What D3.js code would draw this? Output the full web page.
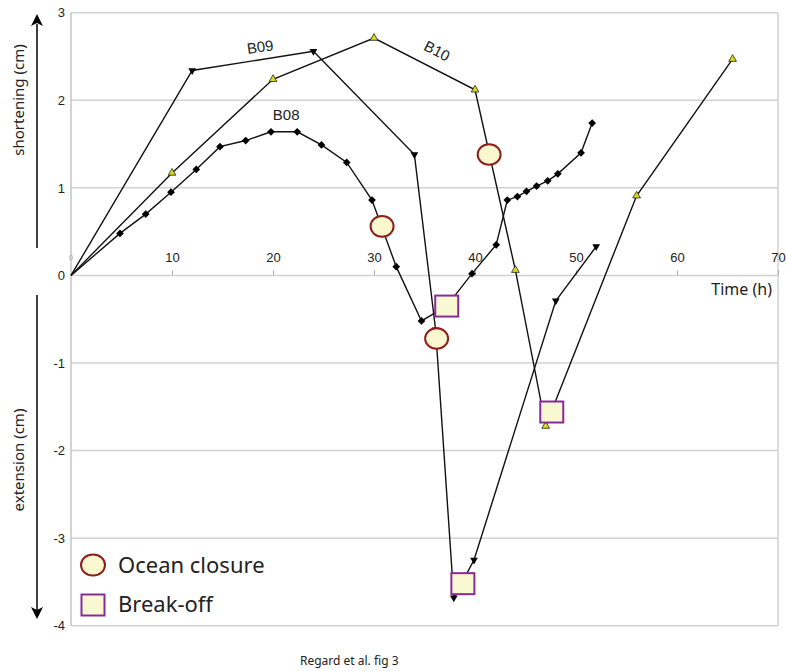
<!DOCTYPE html>
<html><head><meta charset="utf-8">
<script src="https://cdn.jsdelivr.net/npm/d3@7"></script>
<style>body{margin:0;background:#fff}svg{display:block}</style>
</head><body>
<svg id="c" width="786" height="671"></svg>
<script>
// ---- data ----
const xTicks = [10, 20, 30, 40, 50, 60, 70];
const yTicks = [-4, -3, -2, -1, 0, 1, 2, 3];
const b08 = [[0,0],[4.85,0.48],[7.4,0.70],[9.9,0.95],[12.4,1.21],[14.75,1.47],[17.3,1.54],[19.8,1.64],[22.4,1.64],[24.8,1.49],[27.3,1.29],[29.8,0.86],[32.2,0.10],[34.7,-0.52],[37.2,-0.35],[39.7,0.02],[42.1,0.35],[43.2,0.86],[44.2,0.90],[45.1,0.96],[46.1,1.02],[47.2,1.08],[48.2,1.16],[50.5,1.40],[51.6,1.74]];
const b09 = [[0,0],[12.0,2.34],[24.0,2.56],[34.0,1.38],[36.1,-0.62],[37.9,-3.68],[39.9,-3.25],[48.0,-0.29],[52.0,0.33]];
const b10 = [[0,0],[10.0,1.17],[20.0,2.24],[30.0,2.71],[40.0,2.12],[44.0,0.06],[47.0,-1.72],[56.0,0.91],[65.5,2.47]];
const oceanClosure = [[30.8,0.56],[36.2,-0.72],[41.4,1.38]];
const breakOff = [[37.2,-0.35],[38.8,-3.52],[47.6,-1.56]];
const seriesLabels = [{t:"B09", x:18.8, y:2.55, r:-8},{t:"B10", x:36.0, y:2.51, r:27},{t:"B08", x:21.3, y:1.78, r:0}];

const svg = d3.select("#c");
const x = d3.scaleLinear().domain([0,70]).range([71,778]);
const y = d3.scaleLinear().domain([-4,3]).range([625.7,12.7]);
const fmt = d => String(d);

// grid
svg.append("g").selectAll("line").data(yTicks).join("line")
  .attr("x1", x(0)).attr("x2", x(70)).attr("y1", d=>y(d)).attr("y2", d=>y(d))
  .attr("stroke", "#d2d2d2").attr("stroke-width", 1.5);
// left and right borders
svg.append("line").attr("x1",x(0)).attr("x2",x(0)).attr("y1",y(3)).attr("y2",y(-4)).attr("stroke","#c4c4c4").attr("stroke-width",1.5);
svg.append("line").attr("x1",x(70)).attr("x2",x(70)).attr("y1",y(3)).attr("y2",y(-4)).attr("stroke","#d2d2d2").attr("stroke-width",1.5);

// y axis labels
const ya = svg.append("g").attr("transform", `translate(${x(0)},0)`)
  .call(d3.axisLeft(y).tickValues(yTicks).tickSize(0).tickPadding(6).tickFormat(fmt));
ya.select(".domain").remove();
ya.selectAll("text").attr("font-family","Liberation Sans, Arial, sans-serif").attr("font-size",13).attr("fill","#222");

// x axis at y=0
const xa = svg.append("g").attr("transform", `translate(0,${y(0)})`)
  .call(d3.axisTop(x).tickValues(xTicks).tickSize(5).tickPadding(8).tickFormat(fmt));
xa.select(".domain").remove();
xa.selectAll("line").attr("stroke","#aaa");
xa.selectAll("text").attr("font-family","Liberation Sans, Arial, sans-serif").attr("font-size",13).attr("fill","#222");
svg.append("text").attr("x", x(0)).attr("y", y(0)-15).attr("text-anchor","middle")
  .attr("font-family","Liberation Sans, Arial, sans-serif").attr("font-size",8).attr("fill","#aaa").text("0");

// lines
const line = d3.line().x(d=>x(d[0])).y(d=>y(d[1]));
[b08,b09,b10].forEach(s=>{
  svg.append("path").attr("d", line(s)).attr("fill","none").attr("stroke","#111").attr("stroke-width",1.4);
});

// markers
svg.append("g").selectAll("path").data(b08.slice(1)).join("path")
  .attr("transform", d=>`translate(${x(d[0])},${y(d[1])}) rotate(45)`)
  .attr("d", d3.symbol(d3.symbolSquare, 30)()).attr("fill","#000");
svg.append("g").selectAll("path").data(b09.slice(1)).join("path")
  .attr("transform", d=>`translate(${x(d[0])},${y(d[1])}) rotate(180)`)
  .attr("d", d3.symbol(d3.symbolTriangle, 26)()).attr("fill","#000");
svg.append("g").selectAll("path").data(b10.slice(1)).join("path")
  .attr("transform", d=>`translate(${x(d[0])},${y(d[1])})`)
  .attr("d", d3.symbol(d3.symbolTriangle, 26)()).attr("fill","#dcd81a").attr("stroke","#222").attr("stroke-width",0.8);

// event markers
const ocFill = "#fbf7cf", ocStroke = "#8e1f1a", boFill = "#f8f8d2", boStroke = "#8a2a9a";
svg.append("g").selectAll("ellipse").data(oceanClosure).join("ellipse")
  .attr("cx", d=>x(d[0])).attr("cy", d=>y(d[1])).attr("rx", 11.5).attr("ry", 10.3)
  .attr("fill", ocFill).attr("stroke", ocStroke).attr("stroke-width", 2);
svg.append("g").selectAll("rect").data(breakOff).join("rect")
  .attr("x", d=>x(d[0])-11.5).attr("y", d=>y(d[1])-10.5).attr("width", 23).attr("height", 21)
  .attr("fill", boFill).attr("stroke", boStroke).attr("stroke-width", 2);

// series labels
svg.append("g").selectAll("text").data(seriesLabels).join("text")
  .attr("transform", d=>`translate(${x(d.x)},${y(d.y)}) rotate(${d.r})`)
  .attr("text-anchor","middle").attr("font-family","Liberation Sans, Arial, sans-serif")
  .attr("font-size",15).attr("fill","#222").text(d=>d.t);

// axis titles
svg.append("text").attr("x", 772).attr("y", 295).attr("text-anchor","end")
  .attr("font-family","Noto Sans, sans-serif").attr("font-size",16).attr("fill","#222").text("Time (h)");
svg.append("text").attr("transform","translate(24,100) rotate(-90)").attr("text-anchor","middle")
  .attr("font-family","Noto Sans, sans-serif").attr("font-size",15).attr("fill","#222").text("shortening (cm)");
svg.append("text").attr("transform","translate(24,460) rotate(-90)").attr("text-anchor","middle")
  .attr("font-family","Noto Sans, sans-serif").attr("font-size",15).attr("fill","#222").text("extension (cm)");

// arrows
svg.append("path").attr("d","M37,248 L37,24").attr("stroke","#000").attr("stroke-width",1.5);
svg.append("path").attr("d","M31,26 L37,14 L43,26 L37,23 Z").attr("fill","#000");
svg.append("path").attr("d","M37,295 L37,610").attr("stroke","#000").attr("stroke-width",1.5);
svg.append("path").attr("d","M31,607 L37,619 L43,607 L37,610 Z").attr("fill","#000");

// legend
svg.append("ellipse").attr("cx",93).attr("cy",565).attr("rx",12).attr("ry",10.5)
  .attr("fill",ocFill).attr("stroke",ocStroke).attr("stroke-width",2);
svg.append("rect").attr("x",81.5).attr("y",594.5).attr("width",23).attr("height",21)
  .attr("fill",boFill).attr("stroke",boStroke).attr("stroke-width",2);
svg.append("text").attr("x",118).attr("y",573).attr("font-family","Noto Sans, sans-serif").attr("font-size",22).attr("fill","#222").text("Ocean closure");
svg.append("text").attr("x",118).attr("y",612).attr("font-family","Noto Sans, sans-serif").attr("font-size",22).attr("fill","#222").text("Break-off");

// caption
svg.append("text").attr("x",300).attr("y",665).attr("font-family","Noto Sans, sans-serif").attr("font-size",12).attr("fill","#222").text("Regard et al. fig 3");
</script>
</body></html>
